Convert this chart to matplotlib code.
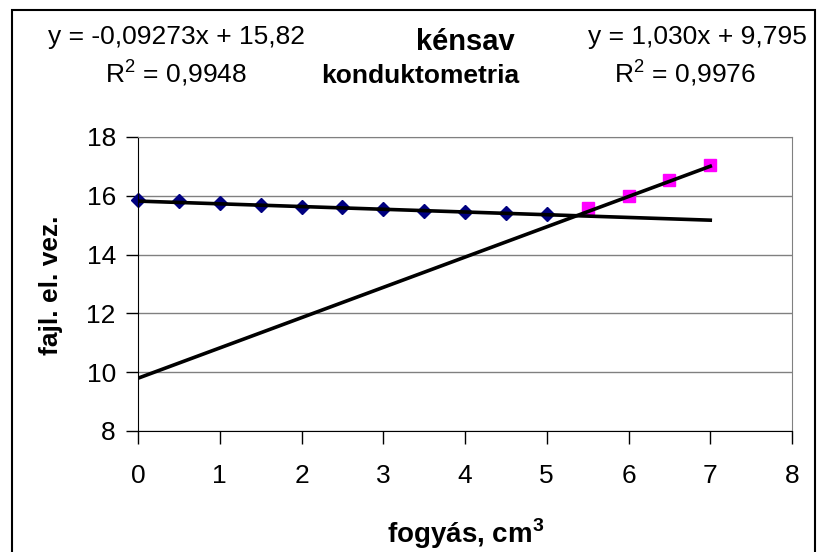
import numpy as np
import matplotlib.pyplot as plt
from matplotlib.patches import Rectangle

plt.rcParams['font.family'] = ['Liberation Sans', 'DejaVu Sans']
plt.rcParams['mathtext.fontset'] = 'custom'
plt.rcParams['mathtext.rm'] = 'Liberation Sans'
plt.rcParams['mathtext.bf'] = 'Liberation Sans:bold'

# measured conductivity data
x_blue = [0, 0.5, 1, 1.5, 2, 2.5, 3, 3.5, 4, 4.5, 5]
y_blue = [15.87, 15.81, 15.76, 15.69, 15.63, 15.63, 15.56, 15.50, 15.44, 15.43, 15.38]
x_pink = [5.5, 6, 6.5, 7]
y_pink = [15.57, 15.98, 16.55, 17.05]

# trendline coefficients (from the chart)
m1, b1 = -0.09273, 15.82
m2, b2 = 1.030, 9.795
trend_x = [0, 7]

W, H = 821, 552
fig = plt.figure(figsize=(W/100, H/100), dpi=100)
ax = fig.add_axes([138/W, 1-431/H, (792-138)/W, (431-137)/H])

ax.set_xlim(0, 8)
ax.set_ylim(8, 18)
ax.set_xticks(range(0, 9))
ax.set_yticks(range(8, 19, 2))
ax.yaxis.grid(True, color='#808080', linewidth=1)
ax.set_axisbelow(True)

tx = np.array(trend_x)
ax.plot(tx, m1*tx + b1, color='black', linewidth=2.6, zorder=3)
ax.plot(tx, m2*tx + b2, color='black', linewidth=2.6, zorder=3)
ax.plot(x_blue, y_blue, linestyle='none', marker='D', markersize=7.5,
        color='#000080', zorder=2, clip_on=False)
ax.plot(x_pink, y_pink, linestyle='none', marker='s', markersize=8,
        color='#FF00FF', zorder=2)

for s in ['top', 'right']:
    ax.spines[s].set_color('#808080')
for s in ['left', 'bottom']:
    ax.spines[s].set_color('black')
ax.tick_params(direction='out', length=9, width=1, labelsize=19)
ax.tick_params(axis='x', pad=15)
ax.tick_params(axis='y', pad=7)

def fy(py):
    return 1 - py/H

ax.set_ylabel('fajl. el. vez.', fontsize=19, fontweight='bold')
ax.yaxis.set_label_coords(51/W, fy(285), transform=fig.transFigure)
ax.yaxis.label.set_va('center')
ax.set_xlabel('fogyás, cm$^\\mathbf{3}$', fontsize=20, fontweight='bold')
ax.xaxis.set_label_coords(466/W, fy(543), transform=fig.transFigure)
ax.xaxis.label.set_va('baseline')

fig.text(176/W, fy(44), 'y = -0,09273x + 15,82', fontsize=19, ha='center', va='baseline')
fig.text(176/W, fy(82), 'R$^2$ = 0,9948', fontsize=19, ha='center', va='baseline')
fig.text(697/W, fy(44), 'y = 1,030x + 9,795', fontsize=19, ha='center', va='baseline')
fig.text(685/W, fy(82), 'R$^2$ = 0,9976', fontsize=19, ha='center', va='baseline')
fig.text(465/W, fy(50), 'kénsav', fontsize=21, fontweight='bold', ha='center', va='baseline')
fig.text(420/W, fy(83), 'konduktometria', fontsize=19, fontweight='bold', ha='center', va='baseline')

fig.patches.append(Rectangle((12/W, -0.05), (815-12)/W, 1-10/H+0.05,
                             transform=fig.transFigure, fill=False,
                             edgecolor='black', linewidth=1.5))

fig.savefig('out.png', dpi=100)
